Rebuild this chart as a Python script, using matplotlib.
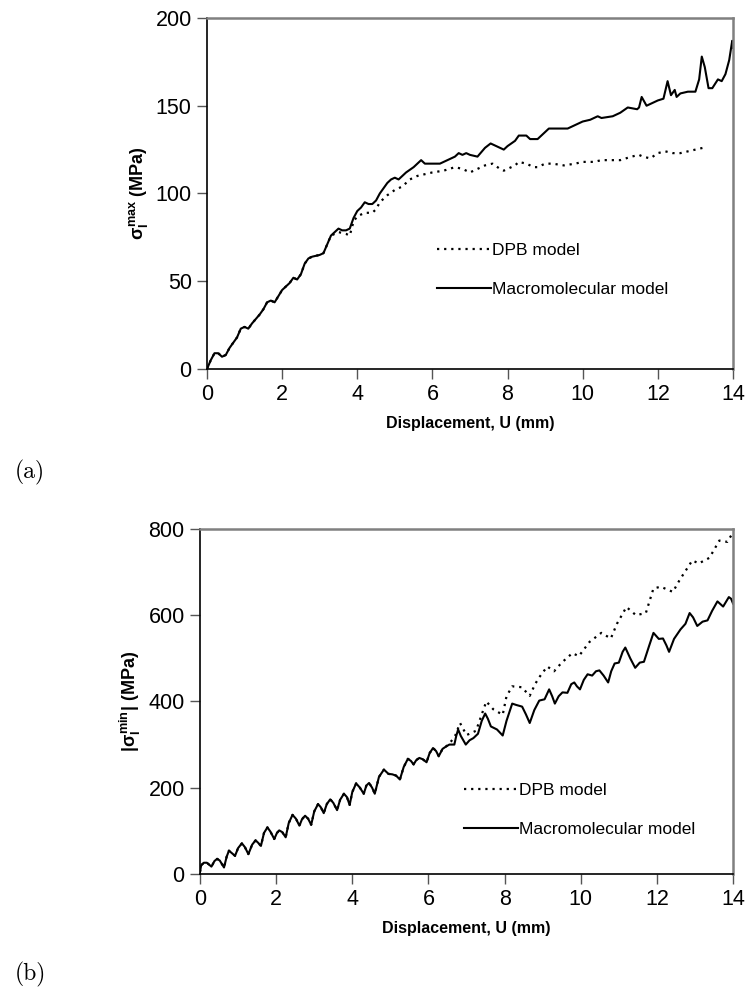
import matplotlib
matplotlib.use("Agg")
import matplotlib.pyplot as plt

plt.rcParams['font.family'] = ['Liberation Sans', 'DejaVu Sans']
plt.rcParams['mathtext.fontset'] = 'custom'
plt.rcParams['mathtext.rm'] = 'Liberation Sans:bold'
plt.rcParams['mathtext.it'] = 'Liberation Sans:bold'
plt.rcParams['mathtext.bf'] = 'Liberation Sans:bold'

# (a) maximum principal stress
a_macro_x = [0, 0.1, 0.2, 0.3, 0.4, 0.5, 0.6, 0.8, 0.9, 1.0, 1.1, 1.2, 1.4, 1.5, 1.6, 1.7, 1.8,
             2.0, 2.2, 2.3, 2.4, 2.5, 2.6, 2.7, 2.8, 3.0, 3.1, 3.2, 3.3, 3.4, 3.5, 3.6, 3.7, 3.8,
             3.9, 4.0, 4.1, 4.2, 4.3, 4.4, 4.5, 4.6, 4.8, 4.9, 5.0, 5.1, 5.3, 5.5, 5.6, 5.7, 5.8,
             6.0, 6.2, 6.4, 6.6, 6.7, 6.8, 6.9, 7.0, 7.2, 7.4, 7.55, 7.7, 7.9, 8.0, 8.2, 8.3, 8.5,
             8.6, 8.8, 9.0, 9.1, 9.4, 9.6, 9.7, 9.8, 10.0, 10.2, 10.4, 10.5, 10.8, 11.0, 11.2,
             11.45, 11.5, 11.57, 11.7, 12.0, 12.15, 12.26, 12.35, 12.45, 12.5, 12.6, 12.8, 13.0,
             13.1, 13.17, 13.25, 13.35, 13.45, 13.6, 13.7, 13.8, 13.9, 13.98, 14.0]
a_macro_y = [0, 5, 9, 9, 7, 8, 12, 18, 23, 24, 23, 26, 31, 34, 38, 39, 38,
             45, 49, 52, 51, 54, 60, 63, 64, 65, 66, 71, 76, 78, 80, 79, 79, 80,
             86, 90, 92, 95, 94, 94, 96, 100, 106, 108, 109, 108, 112, 115, 117, 119, 117,
             117, 117, 119, 121, 123, 122, 123, 122, 121, 126, 128.5, 127, 125, 127, 130, 133, 133,
             131, 131, 135, 137, 137, 137, 138, 139, 141, 142, 144, 143, 144, 146, 149,
             148, 149, 155, 150, 153, 154, 164, 156, 159, 155, 157, 158, 158,
             165, 178, 172, 160, 160, 165, 164, 168, 176, 187, 183]

a_dpb_x = [0, 0.1, 0.2, 0.3, 0.4, 0.5, 0.6, 0.8, 0.9, 1.0, 1.1, 1.2, 1.4, 1.5, 1.6, 1.7, 1.8,
           2.0, 2.2, 2.3, 2.4, 2.5, 2.6, 2.7, 2.8, 3.0, 3.1, 3.2, 3.3, 3.5, 3.7, 3.8, 3.9, 4.0,
           4.2, 4.4, 4.5, 4.6, 4.8, 5.0, 5.2, 5.4, 5.6, 5.8, 6.0, 6.3, 6.6, 6.8, 7.0, 7.2, 7.4,
           7.6, 7.8, 7.9, 8.0, 8.2, 8.3, 8.5, 8.7, 8.8, 9.0, 9.2, 9.5, 9.8, 10.0, 10.3, 10.5,
           10.8, 11.0, 11.3, 11.5, 11.6, 11.8, 12.0, 12.2, 12.4, 12.6, 12.8, 13.0, 13.2, 13.25]
a_dpb_y = [0, 5, 9, 9, 7, 8, 12, 18, 23, 24, 23, 26, 31, 34, 38, 39, 38,
           45, 49, 52, 51, 54, 60, 63, 64, 65, 66, 71, 76, 78, 77, 76, 84, 87,
           89, 89, 91, 95, 99, 102, 104, 108, 110, 111, 112, 113, 115, 114, 112, 114, 116,
           117, 114, 113, 114, 116, 118, 117, 115, 115, 117, 117, 116, 117, 118, 118, 119,
           119, 119, 121, 122, 121, 120, 123, 124, 123, 123, 124, 125, 126, 126]

# (b) minimum principal stress (absolute value)
b_macro_x = [0, 0.03, 0.1, 0.18, 0.3, 0.38, 0.45, 0.52, 0.63, 0.7, 0.76, 0.84, 0.92, 1.0, 1.1,
             1.18, 1.27, 1.37, 1.46, 1.53, 1.6, 1.68, 1.77, 1.85, 1.95, 2.02, 2.08, 2.16, 2.25,
             2.33, 2.43, 2.52, 2.61, 2.68, 2.76, 2.84, 2.92, 3.0, 3.1, 3.17, 3.25, 3.33, 3.42,
             3.5, 3.6, 3.68, 3.78, 3.86, 3.93, 4.0, 4.1, 4.2, 4.3, 4.37, 4.44, 4.52, 4.59, 4.7,
             4.83, 4.95, 5.05, 5.15, 5.25, 5.35, 5.46, 5.54, 5.61, 5.68, 5.76, 5.85, 5.95, 6.03,
             6.12, 6.2, 6.27, 6.37, 6.47, 6.55, 6.68, 6.73, 6.78, 6.85, 6.98, 7.08, 7.18, 7.3,
             7.4, 7.49, 7.56, 7.64, 7.8, 7.95, 8.05, 8.2, 8.3, 8.46, 8.56, 8.66, 8.78, 8.91,
             9.05, 9.17, 9.25, 9.32, 9.42, 9.52, 9.65, 9.75, 9.83, 9.9, 9.98, 10.08, 10.18,
             10.3, 10.4, 10.49, 10.6, 10.72, 10.8, 10.89, 11.0, 11.1, 11.17, 11.3, 11.43, 11.55,
             11.66, 11.8, 11.91, 12.05, 12.16, 12.25, 12.32, 12.45, 12.62, 12.75, 12.86, 12.95,
             13.06, 13.2, 13.33, 13.45, 13.59, 13.68, 13.74, 13.89, 13.95, 14.0]
b_macro_y = [5, 20, 26, 26, 17, 30, 35, 31, 15, 40, 54, 48, 42, 60, 71,
             62, 46, 68, 78, 72, 65, 95, 108, 98, 81, 95, 101, 97, 85,
             118, 137, 128, 112, 127, 135, 128, 114, 145, 162, 155, 141, 162, 173,
             165, 148, 172, 186, 178, 160, 190, 210, 200, 186, 205, 211, 200, 186, 225,
             242, 232, 231, 228, 219, 248, 267, 262, 254, 264, 269, 266, 259, 280,
             292, 285, 273, 290, 296, 300, 300, 320, 335, 320, 300, 310, 315, 325,
             355, 372, 360, 342, 335, 321, 355, 395, 392, 388, 370, 350, 380, 402,
             405, 428, 412, 395, 412, 421, 420, 440, 444, 435, 428, 450, 463,
             460, 470, 472, 460, 444, 470, 488, 490, 515, 525, 500, 478, 490,
             492, 530, 559, 545, 546, 530, 515, 545, 567, 580, 605, 595,
             575, 585, 588, 610, 632, 625, 620, 642, 638, 627]

b_dpb_x = [0, 0.03, 0.1, 0.18, 0.3, 0.38, 0.45, 0.52, 0.63, 0.7, 0.76, 0.84, 0.92, 1.0, 1.1,
           1.18, 1.27, 1.37, 1.46, 1.53, 1.6, 1.68, 1.77, 1.85, 1.95, 2.02, 2.08, 2.16, 2.25,
           2.33, 2.43, 2.52, 2.61, 2.68, 2.76, 2.84, 2.92, 3.0, 3.1, 3.17, 3.25, 3.33, 3.42,
           3.5, 3.6, 3.68, 3.78, 3.86, 3.93, 4.0, 4.1, 4.2, 4.3, 4.37, 4.44, 4.52, 4.59, 4.7,
           4.83, 4.95, 5.05, 5.15, 5.25, 5.35, 5.46, 5.54, 5.61, 5.68, 5.76, 5.85, 5.95, 6.03,
           6.12, 6.2, 6.27, 6.37, 6.47, 6.6, 6.7, 6.83, 6.92, 7.0, 7.25, 7.4, 7.52, 7.7, 7.95,
           8.05, 8.2, 8.45, 8.66, 8.8, 8.91, 9.12, 9.3, 9.5, 9.78, 9.95, 10.23, 10.54, 10.79,
           10.95, 11.2, 11.45, 11.71, 11.91, 12.1, 12.42, 12.6, 12.93, 13.1, 13.38, 13.64,
           13.85, 14.0]
b_dpb_y = [5, 20, 26, 26, 17, 30, 35, 31, 15, 40, 54, 48, 42, 60, 71,
           62, 46, 68, 78, 72, 65, 95, 108, 98, 81, 95, 101, 97, 85,
           118, 137, 128, 112, 127, 135, 128, 114, 145, 162, 155, 141, 162, 173,
           165, 148, 172, 186, 178, 160, 190, 210, 200, 186, 205, 211, 200, 186, 225,
           242, 232, 231, 228, 219, 248, 267, 262, 254, 264, 269, 266, 259, 280,
           292, 285, 273, 290, 296, 308, 320, 350, 335, 322, 332, 370, 400, 382, 369,
           412, 435, 433, 413, 440, 456, 481, 470, 490, 512, 505, 538, 559, 546,
           580, 619, 600, 605, 662, 666, 654, 682, 727, 720, 733, 773,
           770, 792]

x_ticks = [0, 2, 4, 6, 8, 10, 12, 14]


def style_axes(ax, ylim, yticks):
    ax.set_xlim(0, 14)
    ax.set_ylim(*ylim)
    ax.set_xticks(x_ticks)
    ax.set_yticks(yticks)
    ax.tick_params(direction='out', length=7, width=1, labelsize=15.5, pad=4, color='#555555')
    ax.spines['top'].set_color('#808080')
    ax.spines['right'].set_color('#808080')
    ax.spines['top'].set_linewidth(1.8)
    ax.spines['right'].set_linewidth(1.8)
    ax.spines['left'].set_linewidth(1.2)
    ax.spines['bottom'].set_linewidth(1.2)
    ax.set_xlabel('Displacement, U (mm)', fontsize=11.5, fontweight='bold', labelpad=8)


fig = plt.figure(figsize=(7.48, 9.92), dpi=100)

ax1 = fig.add_axes([0.2767, 0.628, 0.7032, 0.3539])
ax1.plot(a_dpb_x, a_dpb_y, color='black', lw=1.6, linestyle=(0, (1, 2.2)), label='DPB model')
ax1.plot(a_macro_x, a_macro_y, color='black', lw=1.5, label='Macromolecular model')
style_axes(ax1, (0, 200), [0, 50, 100, 150, 200])
ax1.set_ylabel(r'$\sigma_I^{max}$ (MPa)', fontsize=13, fontweight='bold', labelpad=4)
ax1.legend(loc='upper left', bbox_to_anchor=(0.425, 0.38), frameon=False, fontsize=12.5,
           handlelength=3.1, handletextpad=0.05, labelspacing=1.4, borderaxespad=0)
fig.text(0.02, 0.518, '(a)', fontsize=17, family='cmr10')

ax2 = fig.add_axes([0.2674, 0.119, 0.7126, 0.3478])
ax2.plot(b_dpb_x, b_dpb_y, color='black', lw=1.6, linestyle=(0, (1, 2.2)), label='DPB model')
ax2.plot(b_macro_x, b_macro_y, color='black', lw=1.5, label='Macromolecular model')
style_axes(ax2, (0, 800), [0, 200, 400, 600, 800])
ax2.set_ylabel(r'|$\sigma_I^{min}$| (MPa)', fontsize=13, fontweight='bold', labelpad=4)
ax2.legend(loc='upper left', bbox_to_anchor=(0.483, 0.285), frameon=False, fontsize=12.5,
           handlelength=3.1, handletextpad=0.05, labelspacing=1.4, borderaxespad=0)
fig.text(0.02, 0.012, '(b)', fontsize=17, family='cmr10')

fig.savefig('out.png', dpi=100)
